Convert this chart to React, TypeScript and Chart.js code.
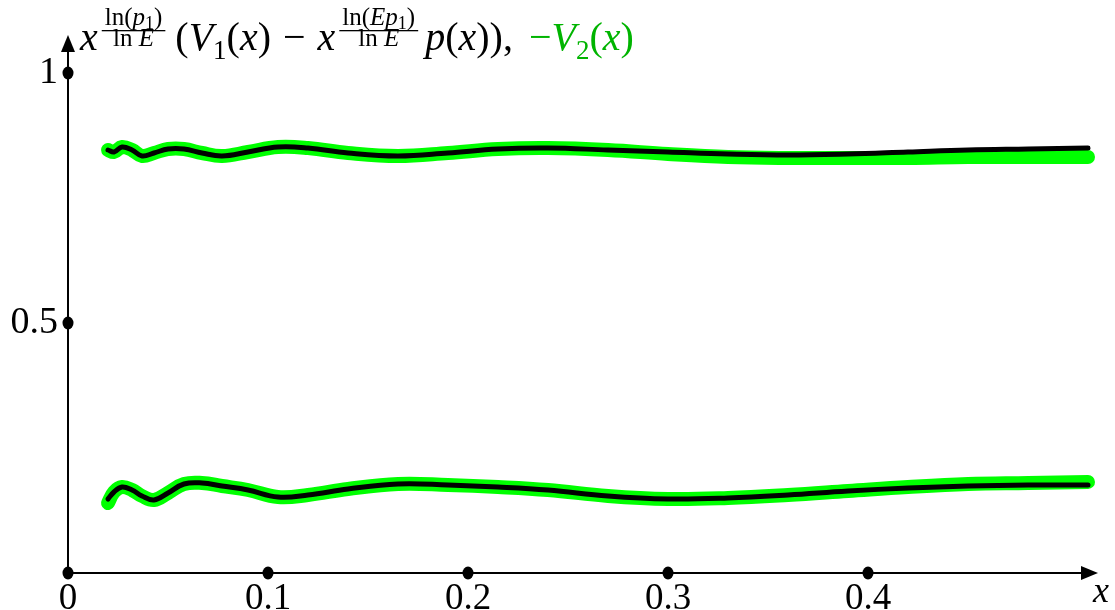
import { useEffect, useRef } from "react";
import { Chart, registerables } from "chart.js";

Chart.register(...registerables);

// ---- data ----
const xValues = [0.02, 0.023, 0.027, 0.032, 0.037, 0.043, 0.05, 0.058, 0.067, 0.077, 0.09, 0.105, 0.12, 0.14, 0.165, 0.19, 0.215, 0.24, 0.27, 0.3, 0.33, 0.36, 0.39, 0.42, 0.45, 0.48, 0.51];
const upperBlack = [0.846, 0.842, 0.852, 0.846, 0.834, 0.84, 0.848, 0.848, 0.84, 0.834, 0.842, 0.852, 0.85, 0.84, 0.834, 0.84, 0.848, 0.85, 0.846, 0.842, 0.838, 0.836, 0.838, 0.842, 0.846, 0.848, 0.85];
const upperGreen = [0.846, 0.842, 0.852, 0.846, 0.834, 0.84, 0.848, 0.848, 0.84, 0.834, 0.842, 0.852, 0.85, 0.84, 0.834, 0.84, 0.848, 0.85, 0.846, 0.838, 0.832, 0.83, 0.83, 0.83, 0.832, 0.832, 0.832];
const lowerBlack = [0.148, 0.162, 0.172, 0.166, 0.154, 0.146, 0.16, 0.178, 0.18, 0.174, 0.166, 0.152, 0.156, 0.168, 0.178, 0.176, 0.172, 0.166, 0.154, 0.148, 0.15, 0.156, 0.164, 0.17, 0.174, 0.176, 0.176];
const lowerGreen = [0.14, 0.162, 0.172, 0.166, 0.154, 0.146, 0.16, 0.178, 0.18, 0.174, 0.166, 0.152, 0.156, 0.168, 0.178, 0.176, 0.172, 0.166, 0.154, 0.148, 0.15, 0.156, 0.164, 0.172, 0.178, 0.18, 0.182];

const xTickValues = [0, 0.1, 0.2, 0.3, 0.4];
const xTickLabels = ["0", "0.1", "0.2", "0.3", "0.4"];
const yTickValues = [0.5, 1];
const yTickLabels = ["0.5", "1"];
const X_MAX = 0.515;
const Y_MAX = 1.076;

const SERIF = '"Liberation Serif", "DejaVu Serif", serif';
const GREEN_LINE = "#00ff00";
const GREEN_TEXT = "#00b400";

const pts = (ys: number[]) => xValues.map((x, i) => ({ x, y: ys[i] }));

type Run = [string, string, number];

function drawTitle(ctx: CanvasRenderingContext2D, x0: number, base: number) {
  const M = 40, F = 25, SUB = 27, SUBF = 18;
  const rom = (s: number) => `${s}px ${SERIF}`;
  const ita = (s: number) => `italic ${s}px ${SERIF}`;
  let x = x0;
  ctx.save();
  ctx.textBaseline = "alphabetic";
  ctx.textAlign = "left";
  const w = (t: string, f: string) => {
    ctx.font = f;
    return ctx.measureText(t).width;
  };
  const put = (t: string, f: string, dy = 0, col = "#000") => {
    ctx.font = f;
    ctx.fillStyle = col;
    ctx.fillText(t, x, base + dy);
    x += ctx.measureText(t).width;
  };
  const runsWidth = (runs: Run[]) => runs.reduce((a, r) => a + w(r[0], r[1]), 0);
  const drawRuns = (runs: Run[], sx: number, by: number) => {
    let cx = sx;
    for (const [t, f, dy] of runs) {
      ctx.font = f;
      ctx.fillText(t, cx, by + dy);
      cx += ctx.measureText(t).width;
    }
  };
  const frac = (num: Run[], den: Run[]) => {
    const wn = runsWidth(num), wd = runsWidth(den);
    const W = Math.max(wn, wd) + 6;
    ctx.fillStyle = "#000";
    drawRuns(num, x + (W - wn) / 2, base - 25);
    drawRuns(den, x + (W - wd) / 2, base - 4);
    ctx.fillRect(x, base - 20, W, 1.3);
    x += W;
  };
  put("x", ita(M));
  x += 4;
  frac(
    [["ln(", rom(F), 0], ["p", ita(F), 0], ["1", rom(SUBF), 4], [")", rom(F), 0]],
    [["ln ", rom(F), 0], ["E", ita(F), 0]]
  );
  x += 10;
  put("(", rom(M));
  put("V", ita(M));
  put("1", rom(SUB), 9);
  put("(", rom(M));
  put("x", ita(M));
  put(")", rom(M));
  x += 12;
  put("\u2212", rom(M));
  x += 12;
  put("x", ita(M));
  x += 4;
  frac(
    [["ln(", rom(F), 0], ["E", ita(F), 0], ["p", ita(F), 0], ["1", rom(SUBF), 4], [")", rom(F), 0]],
    [["ln ", rom(F), 0], ["E", ita(F), 0]]
  );
  x += 7;
  put("p", ita(M));
  put("(", rom(M));
  put("x", ita(M));
  put(")", rom(M));
  put(")", rom(M));
  put(",", rom(M));
  x += 16;
  put("\u2212", rom(M), 0, GREEN_TEXT);
  put("V", ita(M), 0, GREEN_TEXT);
  put("2", rom(SUB), 9, GREEN_TEXT);
  put("(", rom(M), 0, GREEN_TEXT);
  put("x", ita(M), 0, GREEN_TEXT);
  put(")", rom(M), 0, GREEN_TEXT);
  ctx.restore();
}

const axesPlugin = {
  id: "axesArrows",
  beforeDatasetsDraw(chart: any) {
    const { ctx } = chart;
    const xs = chart.scales.x, ys = chart.scales.y;
    const x0 = xs.getPixelForValue(0), y0 = ys.getPixelForValue(0);
    const xEnd = xs.getPixelForValue(X_MAX), yEnd = ys.getPixelForValue(Y_MAX);
    ctx.save();
    ctx.strokeStyle = "#000";
    ctx.lineWidth = 2;
    ctx.beginPath();
    ctx.moveTo(x0, y0);
    ctx.lineTo(xEnd - 10, y0);
    ctx.stroke();
    ctx.beginPath();
    ctx.moveTo(x0, y0);
    ctx.lineTo(x0, yEnd + 10);
    ctx.stroke();
    ctx.fillStyle = "#000";
    ctx.beginPath();
    ctx.moveTo(xEnd, y0);
    ctx.lineTo(xEnd - 17, y0 - 7);
    ctx.lineTo(xEnd - 17, y0 + 7);
    ctx.closePath();
    ctx.fill();
    ctx.beginPath();
    ctx.moveTo(x0, yEnd);
    ctx.lineTo(x0 - 7, yEnd + 17);
    ctx.lineTo(x0 + 7, yEnd + 17);
    ctx.closePath();
    ctx.fill();
    const dot = (px: number, py: number) => {
      ctx.beginPath();
      ctx.ellipse(px, py, 5.5, 6.5, 0, 0, Math.PI * 2);
      ctx.fill();
    };
    xTickValues.forEach((v) => dot(xs.getPixelForValue(v), y0));
    yTickValues.forEach((v) => dot(x0, ys.getPixelForValue(v)));
    ctx.font = `italic 36px ${SERIF}`;
    ctx.textAlign = "center";
    ctx.textBaseline = "alphabetic";
    ctx.fillText("x", xEnd + 3, y0 + 29);
    ctx.restore();
  },
  afterDraw(chart: any) {
    const x0 = chart.scales.x.getPixelForValue(0);
    drawTitle(chart.ctx, x0 + 12, 50);
  },
};

export default function App() {
  const ref = useRef<HTMLCanvasElement | null>(null);
  useEffect(() => {
    if (!ref.current) return;
    const common = {
      pointRadius: 0,
      tension: 0.4,
      fill: false,
      borderCapStyle: "round" as const,
      borderJoinStyle: "round" as const,
    };
    const chart = new Chart(ref.current, {
      type: "line",
      data: {
        datasets: [
          { ...common, data: pts(upperBlack), borderColor: "#000", borderWidth: 5, order: 0 },
          { ...common, data: pts(lowerBlack), borderColor: "#000", borderWidth: 5, order: 0 },
          { ...common, data: pts(upperGreen), borderColor: GREEN_LINE, borderWidth: 14, order: 1 },
          { ...common, data: pts(lowerGreen), borderColor: GREEN_LINE, borderWidth: 14, order: 1 },
        ],
      },
      options: {
        animation: false,
        responsive: true,
        maintainAspectRatio: false,
        layout: { padding: { left: 0, top: 35, right: 17, bottom: 0 } },
        plugins: { legend: { display: false }, tooltip: { enabled: false }, title: { display: false } },
        scales: {
          x: {
            type: "linear",
            min: 0,
            max: X_MAX,
            grid: { display: false, drawTicks: false },
            border: { display: false },
            afterBuildTicks: (s: any) => {
              s.ticks = xTickValues.map((v) => ({ value: v }));
            },
            afterFit: (s: any) => {
              s.height = 37;
            },
            ticks: {
              autoSkip: false,
              maxRotation: 0,
              padding: 4,
              color: "#000",
              font: { family: SERIF, size: 37 },
              callback: (_v: any, i: number) => xTickLabels[i],
            },
          },
          y: {
            type: "linear",
            min: 0,
            max: Y_MAX,
            grid: { display: false, drawTicks: false },
            border: { display: false },
            afterBuildTicks: (s: any) => {
              s.ticks = yTickValues.map((v) => ({ value: v }));
            },
            afterFit: (s: any) => {
              s.width = 68;
            },
            ticks: {
              autoSkip: false,
              padding: 10,
              color: "#000",
              font: { family: SERIF, size: 38 },
              callback: (_v: any, i: number) => yTickLabels[i],
            },
          },
        },
      },
      plugins: [axesPlugin],
    });
    return () => chart.destroy();
  }, []);
  return (
    <div style={{ position: "absolute", left: 0, top: 0, width: 1115, height: 610 }}>
      <canvas ref={ref} />
    </div>
  );
}
